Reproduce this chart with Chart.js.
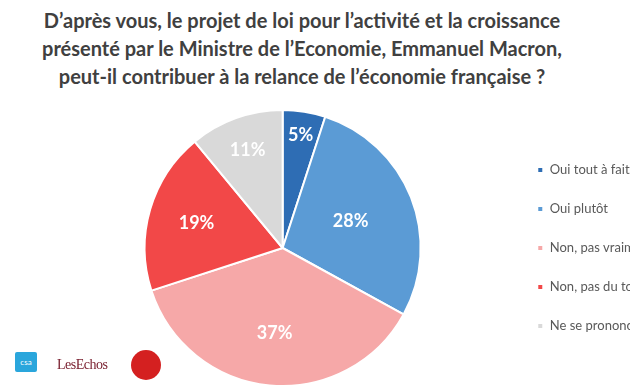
<!DOCTYPE html>
<html lang="fr">
<head>
  <meta charset="UTF-8" />
  <title>Loi Macron - sondage</title>
  <script src="https://cdn.jsdelivr.net/npm/chart.js"></script>
  <style>
    body {
      margin: 0;
      width: 630px;
      height: 390px;
      overflow: hidden;
      background: #fff;
      font-family: Lato, 'Open Sans', sans-serif;
      position: relative;
    }
    .title {
      position: absolute;
      top: 6px;
      left: 0;
      width: 604px;
      text-align: center;
      font-weight: bold;
      font-size: 20px;
      line-height: 28px;
      color: #404040;
    }
    .chart-box {
      position: absolute;
      left: 0;
      top: 100px;
      width: 684px;
      height: 290px;
    }
    .logo-csa {
      position: absolute; left: 15px; top: 352px;
      width: 22px; height: 20px; background: #2aa6dc; color: #fff;
      font-size: 8px; line-height: 20px; text-align: center; border-radius: 2px;
    }
    .logo-echos {
      position: absolute; left: 57px; top: 357px;
      font-family: 'Liberation Serif', serif; font-size: 14px; color: #7a2030;
      letter-spacing: -0.5px;
    }
    .logo-red {
      position: absolute; left: 131px; top: 350px;
      width: 30px; height: 30px; border-radius: 50%; background: #d42020;
    }
  </style>
</head>
<body>
  <div class="title">
    D’après vous, le projet de loi pour l’activité et la croissance<br>
    présenté par le Ministre de l’Economie, Emmanuel Macron,<br>
    peut-il contribuer à la relance de l’économie française ?
  </div>

  <div class="chart-box"><canvas id="pie"></canvas></div>

  <div class="logo-csa">csa</div>
  <div class="logo-echos">LesEchos</div>
  <div class="logo-red"></div>

  <script>
    const categories = ['Oui tout à fait', 'Oui plutôt', 'Non, pas vraiment', 'Non, pas du tout', 'Ne se prononcent pas'];
    const percents = [5, 28, 37, 19, 11];
    const colors = ['#2e6db4', '#5b9bd5', '#f6a8a8', '#f24848', '#d9d9d9'];

    // where each % label sits, as a fraction of the radius (Excel "best fit" look)
    const labelRadius = [0.83, 0.53, 0.62, 0.65, 0.75];

    const sliceLabels = {
      id: 'sliceLabels',
      afterDatasetsDraw(chart) {
        const ctx = chart.ctx;
        const meta = chart.getDatasetMeta(0);
        ctx.save();
        ctx.fillStyle = '#fff';
        ctx.font = 'bold 18px Lato, sans-serif';
        ctx.textAlign = 'center';
        ctx.textBaseline = 'middle';
        meta.data.forEach((arc, i) => {
          const mid = (arc.startAngle + arc.endAngle) / 2;
          const r = arc.outerRadius * labelRadius[i];
          ctx.fillText(percents[i] + '%', arc.x + Math.cos(mid) * r, arc.y + Math.sin(mid) * r);
        });
        ctx.restore();
      }
    };

    new Chart(document.getElementById('pie'), {
      type: 'pie',
      data: {
        labels: categories,
        datasets: [{
          data: percents,
          backgroundColor: colors,
          borderColor: '#fff',
          borderWidth: 2
        }]
      },
      options: {
        responsive: true,
        maintainAspectRatio: false,
        animation: false,
        layout: { padding: { left: 54, top: 9, bottom: 3, right: 0 } },
        plugins: {
          tooltip: { enabled: false },
          legend: {
            position: 'right',
            labels: {
              boxWidth: 6,
              boxHeight: 6,
              padding: 26,
              color: '#595959',
              font: { size: 13, family: 'Lato, sans-serif' }
            }
          }
        }
      },
      plugins: [sliceLabels]
    });
  </script>
</body>
</html>
